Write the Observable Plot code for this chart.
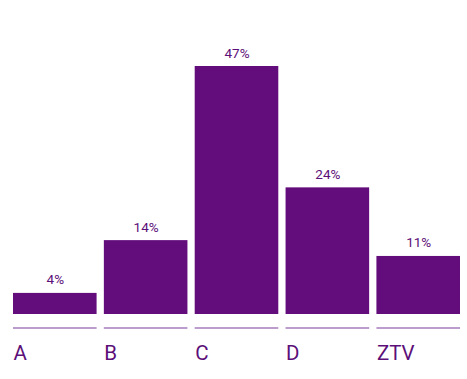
<!DOCTYPE html>
<html><head><meta charset="utf-8">
<script src="https://cdn.jsdelivr.net/npm/d3@7"></script>
<script src="https://cdn.jsdelivr.net/npm/@observablehq/plot@0.6"></script>
<style>body{margin:0;background:#fff;font-family:Roboto,sans-serif}</style>
</head><body><div id="chart"></div>
<script>
const categories = ["A", "B", "C", "D", "ZTV"];
const values = [4, 14, 47, 24, 11];
const data = categories.map((c, i) => ({cat: c, value: values[i]}));
const barColor = "#630c7b";
const textColor = "#5c0f78";
const W = 467, H = 379;
const xScale = {domain: categories, range: [13, 460], paddingInner: 0.08, paddingOuter: 0, round: false};
const bw = (447 / (5 - 0.08)) * (1 - 0.08);
const chart = Plot.plot({
  width: W, height: H,
  marginTop: 66, marginBottom: 65, marginLeft: 0, marginRight: 0,
  style: {fontFamily: "Roboto, sans-serif", background: "#fff"},
  x: {...xScale, axis: null},
  y: {domain: [0, d3.max(values)], axis: null},
  marks: [
    Plot.barY(data, {x: "cat", y: "value", fill: barColor}),
    Plot.tickY(data, {x: "cat", y: () => 0, dy: 13.5, stroke: "#a57bbd", strokeWidth: 1.6}),
    Plot.text(data, {x: "cat", y: "value", text: d => d.value + "%", dy: -9, lineAnchor: "bottom", fill: textColor, fontSize: 13.5}),
    Plot.text(data, {x: "cat", y: () => 0, text: "cat", dy: 45, dx: -bw / 2, textAnchor: "start", lineAnchor: "bottom", fill: textColor, fontSize: 20.5})
  ]
});
document.getElementById("chart").append(chart);
</script></body></html>
